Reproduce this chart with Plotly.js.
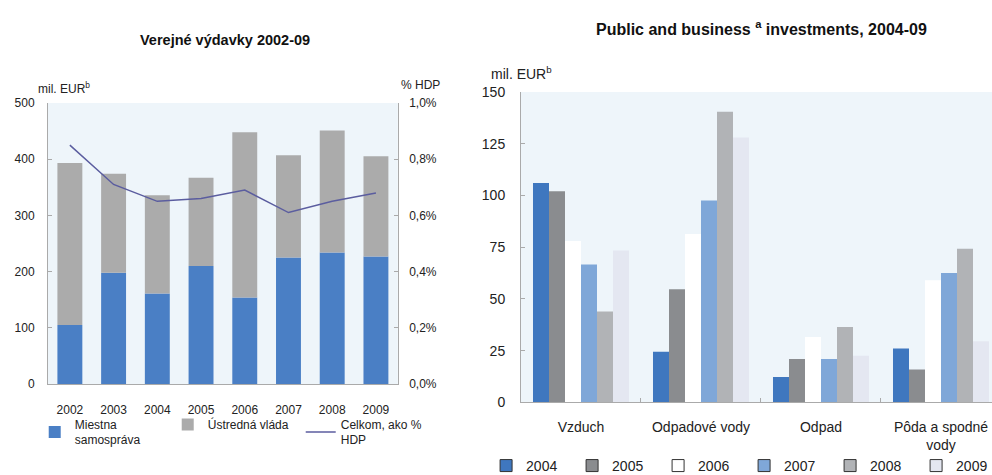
<!DOCTYPE html>
<html><head><meta charset="utf-8">
<script src="https://cdn.plot.ly/plotly-3.0.1.min.js"></script>
<style>html,body{margin:0;padding:0;background:#fff}#chart{width:992px;height:475px}</style>
</head><body><div id="chart"></div>
<script>
// Left chart: public expenditure 2002-09 (mil. EUR) and total as % of GDP
const years = ['2002','2003','2004','2005','2006','2007','2008','2009'];
const localGov = [105,198,161,210,154,225,234,227];
const centralGov = [288,176,175,157,294,182,217,178];
const totalPctGDP = [0.85,0.71,0.65,0.66,0.69,0.61,0.65,0.68];

// Right chart: public and business investments 2004-09 (mil. EUR)
const domains = ['Vzduch','Odpadové vody','Odpad','Pôda a spodné<br>vody'];
const invYears = ['2004','2005','2006','2007','2008','2009'];
const inv2004 = [106,24.5,12.3,26];
const inv2005 = [102,54.6,20.9,15.9];
const inv2006 = [78,81.4,31.6,59];
const inv2007 = [66.6,97.6,20.9,62.5];
const inv2008 = [43.9,140.5,36.4,74.2];
const inv2009 = [73.4,128,22.5,29.5];
const invSeries = [inv2004,inv2005,inv2006,inv2007,inv2008,inv2009];
const invColors = ['#3f77bf','#8a8c8f','#ffffff','#7fa7d8','#b1b3b6','#e4e7f1'];

const F = 'Liberation Sans, Arial, sans-serif';
const traces = [];

traces.push({type:'bar', x:years, y:localGov, name:'Miestna<br>samospráva', xaxis:'x', yaxis:'y',
  marker:{color:'#4a7fc5'}, offsetgroup:'L', width:0.57, legend:'legend'});
traces.push({type:'bar', x:years, y:centralGov, base:localGov, name:'Ústredná vláda', xaxis:'x', yaxis:'y',
  marker:{color:'#ababab'}, offsetgroup:'L', width:0.57, legend:'legend'});
traces.push({type:'scatter', mode:'lines', x:years, y:totalPctGDP, name:'Celkom, ako %<br>HDP', xaxis:'x', yaxis:'y2',
  line:{color:'#5b5d9f', width:1.5}, legend:'legend'});

invSeries.forEach((s,i)=>{
  traces.push({type:'bar', x:domains, y:s, name:invYears[i], xaxis:'x2', yaxis:'y3', offsetgroup:'g'+invYears[i],
    marker:{color:invColors[i], line:{width:0}}, showlegend:false, legend:'legend2'});
});
// legend entries (outlined boxes, as in the reference legend)
invSeries.forEach((s,i)=>{
  traces.push({type:'bar', x:[null], y:[null], name:invYears[i], xaxis:'x2', yaxis:'y3', offsetgroup:'g'+invYears[i],
    marker:{color:invColors[i], line:{color:'#333', width:1}}, legend:'legend2', hoverinfo:'skip'});
});

const tf = {family:F, size:12, color:'#222'};
const tf2 = {family:F, size:14, color:'#222'};
const layout = {
  width:992, height:475, margin:{l:0,r:0,t:0,b:0,autoexpand:false},
  paper_bgcolor:'#fff', plot_bgcolor:'#eef5fa',
  separators:', ', barmode:'group', bargap:0.2, bargroupgap:0,
  font:{family:F, size:12, color:'#222'},
  xaxis:{domain:[0.0484,0.401], anchor:'y', type:'category', range:[-0.5,7.5],
    showline:true, linecolor:'#aaa', linewidth:1, ticks:'', tickfont:tf, ticklabelstandoff:15},
  yaxis:{domain:[0.1916,0.7832], range:[0,500], dtick:100, showline:true, linecolor:'#aaa',
    ticks:'inside', ticklen:4, tickcolor:'#aaa', showgrid:false, zeroline:false, tickfont:tf, ticklabelstandoff:10},
  yaxis2:{overlaying:'y', side:'right', anchor:'x', range:[0,1], dtick:0.2, tickformat:'.1f', ticksuffix:'%',
    showline:true, linecolor:'#aaa', ticks:'inside', ticklen:4, tickcolor:'#aaa', showgrid:false, zeroline:false,
    tickfont:tf, ticklabelstandoff:8},
  xaxis2:{domain:[0.5252,1], anchor:'y3', type:'category', range:[-0.5,3.425],
    showline:true, linecolor:'#aaa', ticks:'inside', tickson:'boundaries', ticklen:4, tickcolor:'#aaa',
    tickfont:tf2, ticklabelstandoff:12},
  yaxis3:{domain:[0.153,0.8063], anchor:'x2', range:[0,150], dtick:25, showline:true, linecolor:'#aaa',
    ticks:'inside', ticklen:4, tickcolor:'#aaa', showgrid:false, zeroline:false,
    tickfont:tf2, ticklabelstandoff:12},
  legend:{orientation:'h', xref:'container', yref:'container', x:0.035, y:0.137, xanchor:'left', yanchor:'top', valign:'middle',
    entrywidth:88, entrywidthmode:'pixels', font:{family:F,size:12,color:'#222'}, bgcolor:'rgba(0,0,0,0)'},
  legend2:{orientation:'h', xref:'container', yref:'container', x:0.49, y:0.019, xanchor:'left', yanchor:'middle', valign:'middle',
    entrywidth:41, entrywidthmode:'pixels', font:{family:F,size:14,color:'#222'}, bgcolor:'rgba(0,0,0,0)'},
  annotations:[
    {xref:'paper', yref:'paper', x:0.227, y:0.916, xanchor:'center', yanchor:'middle', text:'<b>Verejné výdavky 2002-09</b>', showarrow:false,
      font:{family:F,size:14.5,color:'#111'}},
    {xref:'paper', yref:'paper', x:0.768, y:0.941, xanchor:'center', yanchor:'middle', text:'<b>Public and business <sup>a</sup> investments, 2004-09</b>',
      showarrow:false, font:{family:F,size:16,color:'#111'}},
    {xref:'paper', yref:'paper', x:0.036, y:0.815, xanchor:'left', yanchor:'middle', text:'mil. EUR<sup>b</sup>', showarrow:false,
      font:{family:F,size:12,color:'#222'}},
    {xref:'paper', yref:'paper', x:0.402, y:0.821, xanchor:'left', yanchor:'middle', text:'% HDP', showarrow:false,
      font:{family:F,size:12,color:'#222'}},
    {xref:'paper', yref:'paper', x:0.493, y:0.846, xanchor:'left', yanchor:'middle', text:'mil. EUR<sup>b</sup>', showarrow:false,
      font:{family:F,size:14,color:'#222'}}
  ]
};
Plotly.newPlot('chart', traces, layout, {displayModeBar:false, staticPlot:true});
</script></body></html>
